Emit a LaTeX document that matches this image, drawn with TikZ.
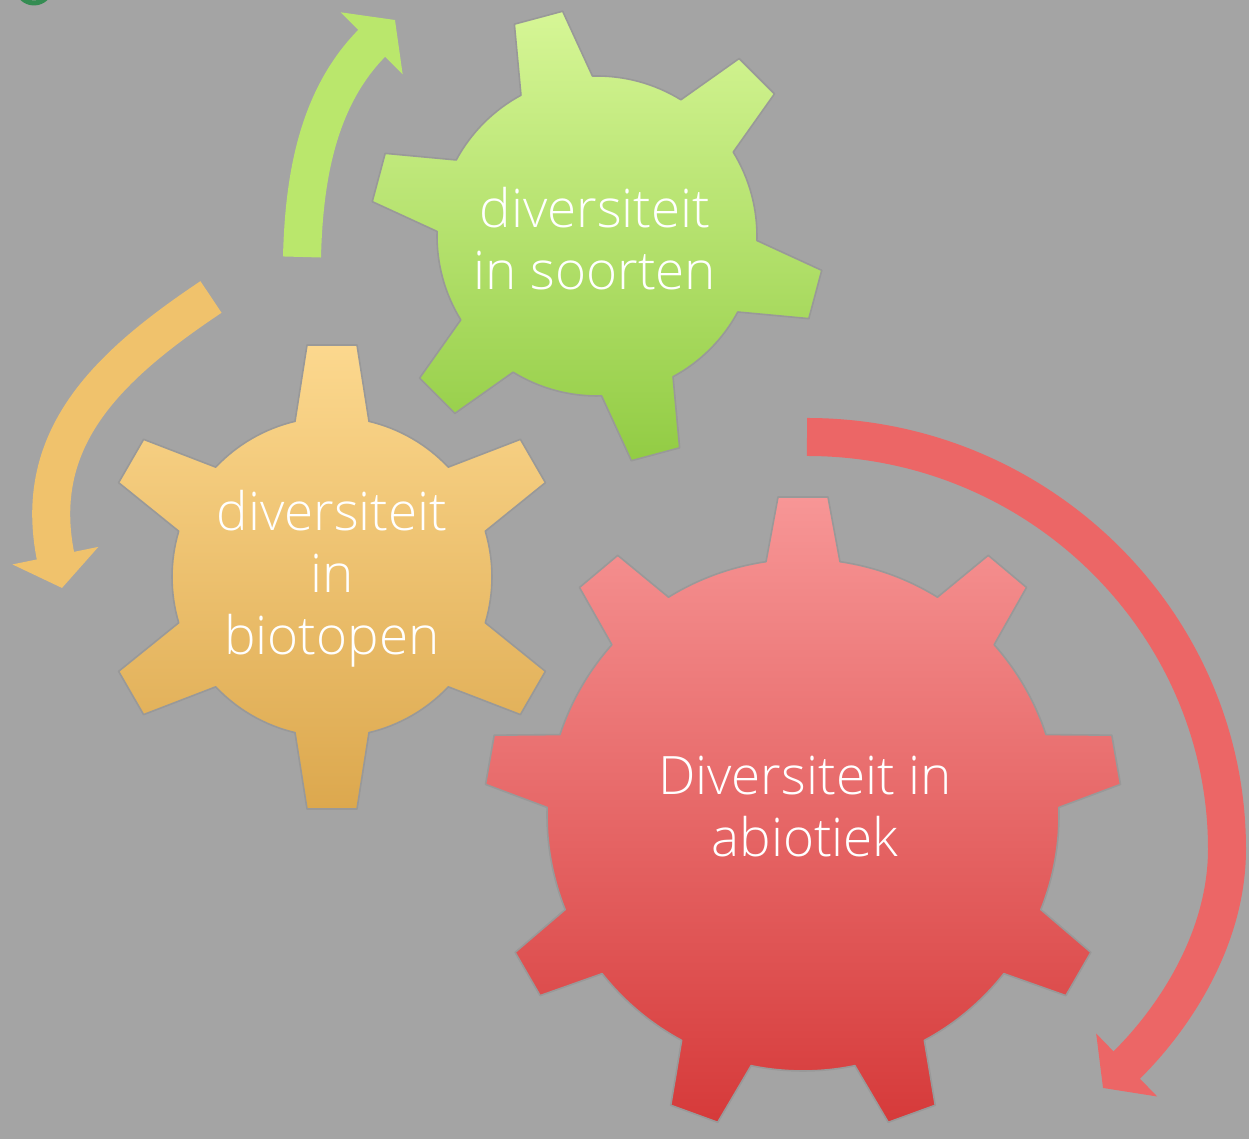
\documentclass[tikz,border=0pt]{standalone}
\usepackage{fontspec}
\usetikzlibrary{arrows.meta}
\IfFontExistsTF{Open Sans Light}{\newfontfamily\gearfont{Open Sans Light}}{\newfontfamily\gearfont{Open Sans}}
\definecolor{achtergrond}{RGB}{164,164,164}
\definecolor{groenboven}{RGB}{214,246,150}
\definecolor{groenonder}{RGB}{146,204,68}
\definecolor{oranjeboven}{RGB}{252,216,142}
\definecolor{oranjeonder}{RGB}{220,168,78}
\definecolor{roodboven}{RGB}{247,150,150}
\definecolor{roodonder}{RGB}{214,58,58}
\definecolor{groenpijl}{RGB}{186,231,108}
\definecolor{oranjepijl}{RGB}{240,194,108}
\definecolor{roodpijl}{RGB}{236,102,102}
\definecolor{cirkelgroen}{RGB}{52,140,82}
% tandwiel: centrum, tanden, straal, tipstraal, hoek eerste tand, kleur boven, kleur onder
\newcommand{\tandwiel}[7]{%
  \pgfmathsetmacro{\gHb}{asin(37/#3)}
  \pgfmathsetmacro{\gHt}{atan(25/#4)}
  \pgfmathsetmacro{\gRt}{veclen(#4,25)}
  \pgfmathsetmacro{\gSt}{360/#2}
  \shade[rand, top color=#6, bottom color=#7, shift={#1}]
    ({#5-\gHb}:#3) \foreach \k [evaluate=\k as \ha using {#5+(\k-1)*\gSt}] in {1,...,#2}{
      -- ({\ha-\gHt}:\gRt) -- ({\ha+\gHt}:\gRt) -- ({\ha+\gHb}:#3)
      arc[start angle={\ha+\gHb}, end angle={\ha+\gSt-\gHb}, radius=#3]} -- cycle;
}
\begin{document}
\begin{tikzpicture}[line join=round, x=0.5pt, y=0.5pt,
    rand/.style={draw=black!40, line width=0.8pt},
    tekst/.style={text=white, align=center, font=\gearfont\fontsize{26.5}{31}\selectfont},
    pijl/.style={line width=19pt, line cap=butt, -{Triangle[width=43pt,length=16.5pt]}}]
  %Achtergrond
  \fill[achtergrond] (0,0) rectangle (1249,1139);
  \useasboundingbox (0,0) rectangle (1249,1139);
  \clip (0,0) rectangle (1249,1139);
  \draw[cirkelgroen, line width=2.5pt] (34,1153) circle[radius=17];
  %Pijlen
  \coordinate (gstart) at (302,882);
  \coordinate (gpunt) at (395,1119);
  \coordinate (ostart) at (211,842);
  \coordinate (opunt) at (62,551);
  \coordinate (rstart) at (807,702);
  \coordinate (rmidden) at (1227,290);
  \coordinate (rpunt) at (1103,51);
  \draw[pijl, groenpijl] (gstart) .. controls (304,960) and (317,1041) .. (gpunt);
  \draw[pijl, oranjepijl] (ostart) .. controls (103,770) and (32,698) .. (opunt);
  \draw[pijl, roodpijl] (rstart) .. controls (1040,702) and (1227,515) .. (rmidden)
    .. controls (1227,195) and (1168,114) .. (rpunt);
  %Tandwielen
  \tandwiel{(332,562)}{6}{160}{232}{90}{oranjeboven}{oranjeonder}
  \tandwiel{(597,903)}{6}{160}{226}{105}{groenboven}{groenonder}
  \tandwiel{(803,324)}{9}{256}{318}{90}{roodboven}{roodonder}
  %Teksten
  \node[tekst] (soorten) at (595,900) {diversiteit\\in soorten};
  \node[tekst] (biotopen) at (332,560) {diversiteit\\in\\biotopen};
  \node[tekst] (abiotiek) at (805,332) {Diversiteit in\\abiotiek};
\end{tikzpicture}
\end{document}
